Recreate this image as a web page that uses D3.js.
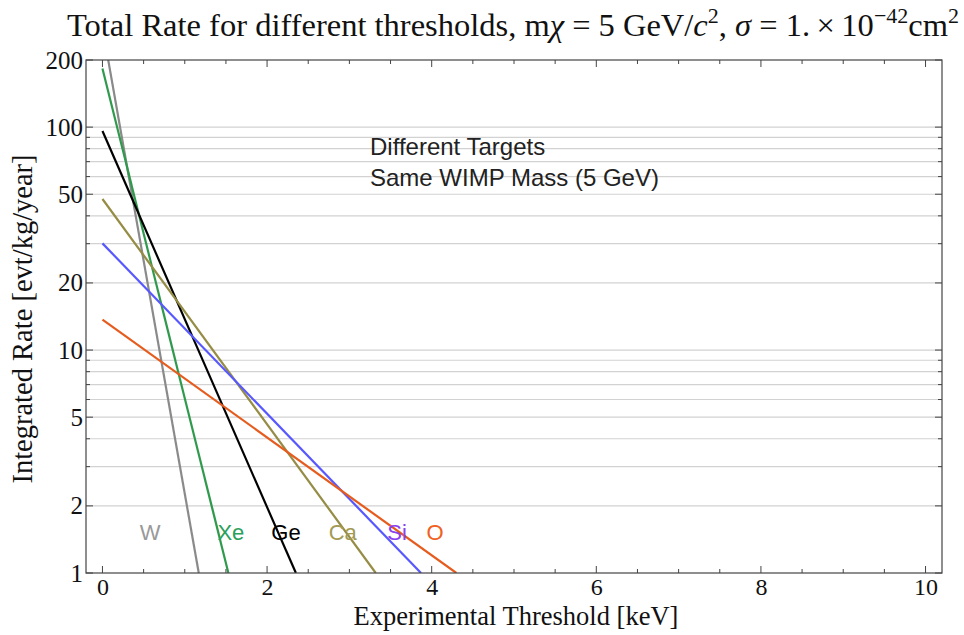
<!DOCTYPE html>
<html><head><meta charset="utf-8">
<script src="https://cdn.jsdelivr.net/npm/d3@7/dist/d3.min.js"></script>
<style>body{margin:0;background:#fff}svg{display:block}</style>
</head><body>
<svg id="c" width="964" height="635"></svg>
<script>
// ---- data ----
const targets = ["W", "Xe", "Ge", "Ca", "Si", "O"];
const thresholdStart = [0, 0, 0, 0, 0, 0];
const rateStart = [280, 183, 96, 47.6, 30.1, 13.7];
const thresholdEnd = [1.17, 1.53, 2.35, 3.32, 3.87, 4.30];
const rateEnd = [1, 1, 1, 1, 1, 1];
const labelX = [0.58, 1.56, 2.23, 2.92, 3.58, 4.04];
const labelRate = 1.52;
const lineColors = ["#8a8a8a", "#2f9a4c", "#000000", "#958c45", "#5858ff", "#e65c1e"];
const labelColors = ["#999999", "#2aa05c", "#000000", "#a39a55", "#8a3ff0", "#f06020"];
const xTicks = [0, 2, 4, 6, 8, 10];
const xMinor = d3.range(0, 10.01, 0.5);
const yTicks = [1, 2, 5, 10, 20, 50, 100, 200];
const yGrid = [2,3,4,5,6,7,8,9,10,20,30,40,50,60,70,80,90,100];
const yMinor = [1,2,3,4,5,6,7,8,9,10,20,30,40,50,60,70,80,90,100,200];

const svg = d3.select("#c");
const L = 86, R = 942, T = 60, B = 573;
const x = d3.scaleLinear().domain([-0.2, 10.2]).range([L, R]);
const y = d3.scaleLog().domain([1, 200]).range([B, T]);
const serif = "'Liberation Serif','Times New Roman',serif";
const sans = "'Liberation Sans',Arial,sans-serif";

// gridlines
svg.append("g").selectAll("line").data(yGrid).join("line")
  .attr("x1", L).attr("x2", R).attr("y1", d => y(d)).attr("y2", d => y(d))
  .attr("stroke", "#d2d2d2").attr("stroke-width", 1.2);

// clip
svg.append("clipPath").attr("id", "clip").append("rect")
  .attr("x", L).attr("y", T).attr("width", R - L).attr("height", B - T);

// lines
const line = d3.line().x(d => x(d[0])).y(d => y(d[1]));
const g = svg.append("g").attr("clip-path", "url(#clip)");
targets.forEach((t, i) => {
  g.append("path")
    .datum([[thresholdStart[i], rateStart[i]], [thresholdEnd[i], rateEnd[i]]])
    .attr("d", line).attr("fill", "none")
    .attr("stroke", lineColors[i]).attr("stroke-width", 2.2);
});

// axes
const ax = svg.append("g").attr("transform", `translate(0,${B})`)
  .call(d3.axisBottom(x).tickValues(xTicks).tickSize(0).tickPadding(5).tickFormat(d3.format("d")));
ax.select(".domain").remove();
ax.selectAll("text").attr("font-family", serif).attr("font-size", 24).attr("fill", "#111");

const ay = svg.append("g").attr("transform", `translate(${L},0)`)
  .call(d3.axisLeft(y).tickValues(yTicks).tickSize(0).tickPadding(3).tickFormat(d3.format("d")));
ay.select(".domain").remove();
ay.selectAll("text").attr("font-family", serif).attr("font-size", 25).attr("fill", "#111").attr("dy", "0.32em");

const tk = svg.append("g").attr("stroke", "#444").attr("stroke-width", 1);
xMinor.forEach(v => {
  const major = xTicks.includes(v);
  const len = major ? 7 : 4;
  tk.append("line").attr("x1", x(v)).attr("x2", x(v)).attr("y1", B).attr("y2", B - len);
  tk.append("line").attr("x1", x(v)).attr("x2", x(v)).attr("y1", T).attr("y2", T + len);
});
yMinor.forEach(v => {
  const major = yTicks.includes(v);
  const len = major ? 7 : 4;
  tk.append("line").attr("x1", L).attr("x2", L + len).attr("y1", y(v)).attr("y2", y(v));
  tk.append("line").attr("x1", R).attr("x2", R - len).attr("y1", y(v)).attr("y2", y(v));
});

// frame
svg.append("rect").attr("x", L).attr("y", T).attr("width", R - L).attr("height", B - T)
  .attr("fill", "none").attr("stroke", "#444").attr("stroke-width", 1.2);

// target labels
svg.append("g").selectAll("text").data(targets).join("text")
  .attr("x", (d, i) => x(labelX[i])).attr("y", y(labelRate))
  .attr("dy", "0.35em").attr("text-anchor", "middle")
  .attr("font-family", sans).attr("font-size", 22)
  .attr("fill", (d, i) => labelColors[i]).text(d => d);

// annotation
svg.append("text").attr("x", 370).attr("y", 155).attr("font-family", sans).attr("font-size", 24)
  .attr("fill", "#222").text("Different Targets");
svg.append("text").attr("x", 370).attr("y", 186).attr("font-family", sans).attr("font-size", 24)
  .attr("fill", "#222").text("Same WIMP Mass (5 GeV)");

// axis titles
svg.append("text").attr("x", 516).attr("y", 625).attr("text-anchor", "middle")
  .attr("font-family", serif).attr("font-size", 26.5).attr("fill", "#111")
  .text("Experimental Threshold [keV]");
svg.append("text").attr("transform", "translate(32,319) rotate(-90)").attr("text-anchor", "middle")
  .attr("font-family", serif).attr("font-size", 28.5).attr("fill", "#111")
  .text("Integrated Rate [evt/kg/year]");

// title
const tt = svg.append("text").attr("x", 513).attr("y", 36).attr("text-anchor", "middle")
  .attr("font-family", serif).attr("font-size", 32.5).attr("fill", "#111");
tt.append("tspan").text("Total Rate for different thresholds, m");
tt.append("tspan").attr("font-style", "italic").text("χ");
tt.append("tspan").text(" = 5 GeV/");
tt.append("tspan").attr("font-style", "italic").text("c");
tt.append("tspan").attr("font-size", 22).attr("dy", -13).text("2");
tt.append("tspan").attr("dy", 13).text(", ");
tt.append("tspan").attr("font-style", "italic").text("σ");
tt.append("tspan").text(" = 1.\u2009×\u200910");
tt.append("tspan").attr("font-size", 22).attr("dy", -13).text("−42");
tt.append("tspan").attr("dy", 13).text("cm");
tt.append("tspan").attr("font-size", 22).attr("dy", -13).text("2");
</script>
</body></html>
